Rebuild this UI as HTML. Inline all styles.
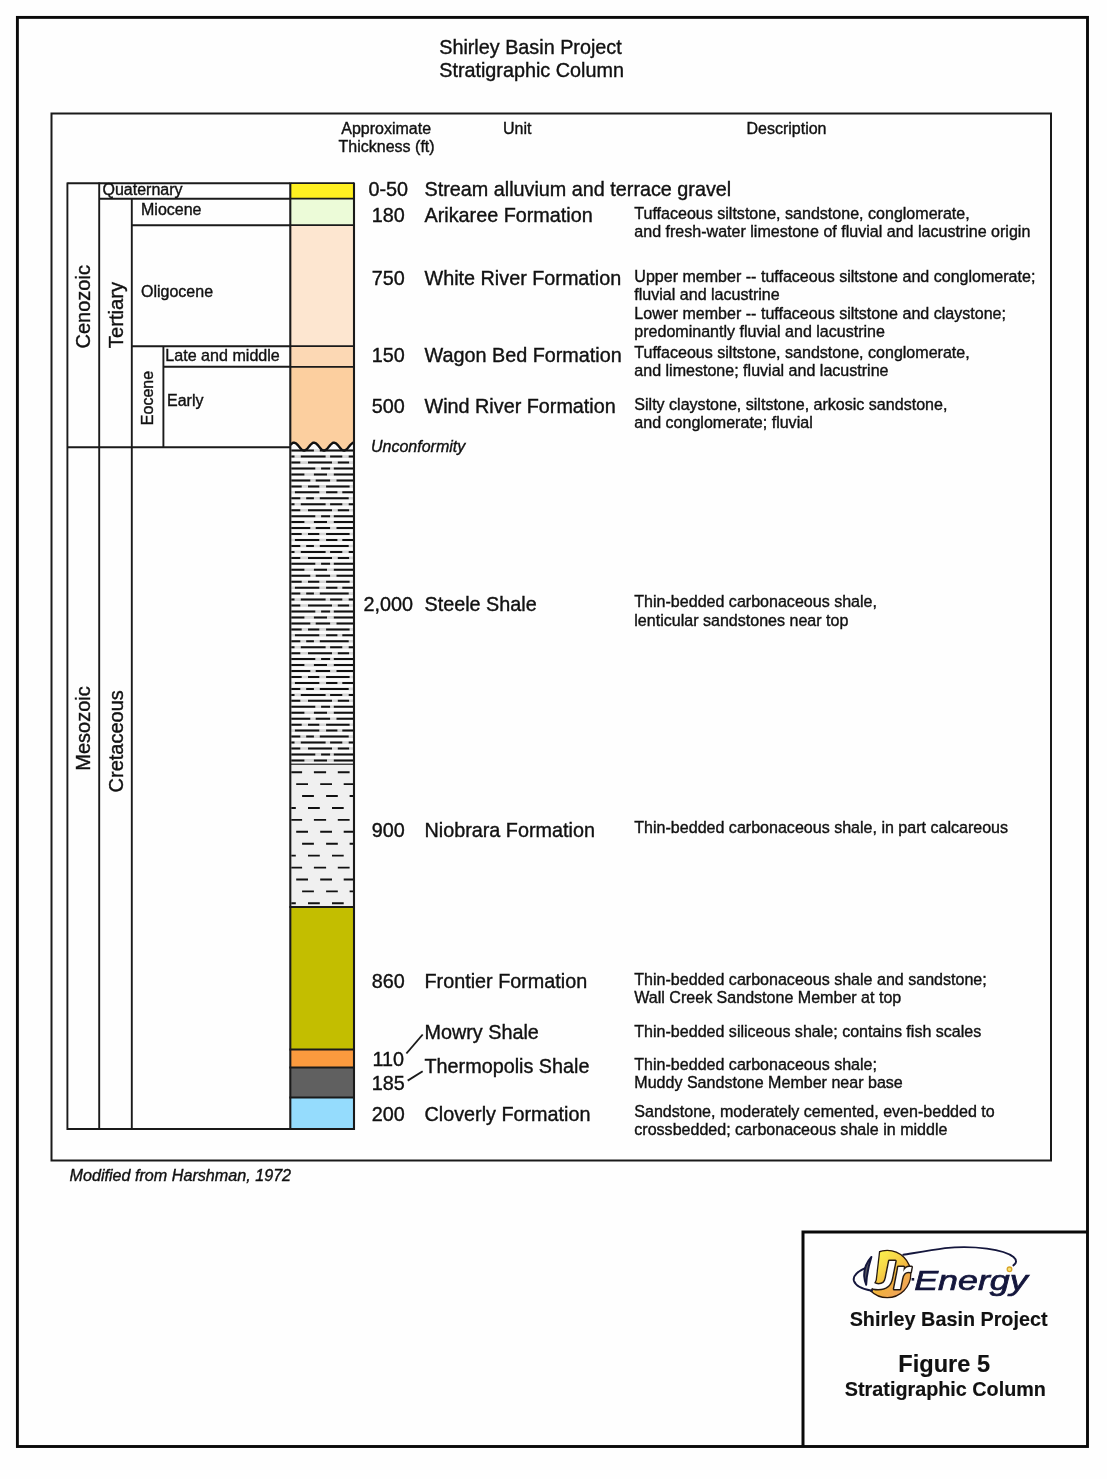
<!DOCTYPE html>
<html lang="en"><head><meta charset="utf-8"><title>Shirley Basin Project - Stratigraphic Column</title>
<style>
html,body{margin:0;padding:0;background:#fff;}
body{width:1107px;height:1479px;overflow:hidden;}
svg{display:block;filter:blur(0.45px);}
svg text{font-family:"Liberation Sans",Arial,Helvetica,sans-serif;stroke:#111;stroke-width:0.38px;}
</style></head><body>
<svg width="1107" height="1479" viewBox="0 0 1107 1479">
<rect width="1107" height="1479" fill="#fefefe"/>
<rect x="17.4" y="17.4" width="1070.1" height="1429.1" fill="none" stroke="#0a0a0a" stroke-width="2.9"/>
<rect x="51.5" y="113.5" width="999.5" height="1047" fill="none" stroke="#1a1a1a" stroke-width="2"/>
<path d="M803,1446 V1232 H1087" fill="none" stroke="#0a0a0a" stroke-width="3"/>
<text x="439.2" y="53.8" font-size="19.8" fill="#111" >Shirley Basin Project</text>
<text x="439.2" y="76.8" font-size="19.8" fill="#111" >Stratigraphic Column</text>
<text x="386.2" y="133.8" font-size="16" text-anchor="middle" fill="#111" >Approximate</text>
<text x="386.6" y="152" font-size="16" text-anchor="middle" fill="#111" >Thickness (ft)</text>
<text x="517.2" y="133.8" font-size="16" text-anchor="middle" fill="#111" >Unit</text>
<text x="786.5" y="133.8" font-size="16" text-anchor="middle" fill="#111" >Description</text>
<rect x="290.3" y="183.2" width="63.69999999999999" height="15.5" fill="#fff021"/>
<rect x="290.3" y="198.7" width="63.69999999999999" height="26.5" fill="#ecfbd8"/>
<rect x="290.3" y="225.2" width="63.69999999999999" height="121.0" fill="#fde6d0"/>
<rect x="290.3" y="346.2" width="63.69999999999999" height="20.600000000000023" fill="#fcd8b4"/>
<rect x="290.3" y="366.8" width="63.69999999999999" height="85.19999999999999" fill="#fccf9f"/>
<rect x="290.3" y="452" width="63.69999999999999" height="312.29999999999995" fill="#fbfbfb"/>
<rect x="290.3" y="764.3" width="63.69999999999999" height="142.60000000000002" fill="#f0f0f0"/>
<rect x="290.3" y="906.9" width="63.69999999999999" height="142.69999999999993" fill="#c3be00"/>
<rect x="290.3" y="1049.6" width="63.69999999999999" height="17.90000000000009" fill="#fb9a3e"/>
<rect x="290.3" y="1067.5" width="63.69999999999999" height="30.09999999999991" fill="#606060"/>
<rect x="290.3" y="1097.6" width="63.69999999999999" height="31.40000000000009" fill="#95dcfd"/>
<path d="M290.30,445.05 L290.80,444.51 L291.30,444.02 L291.80,443.59 L292.30,443.24 L292.80,442.97 L293.30,442.79 L293.80,442.71 L294.30,442.72 L294.80,442.82 L295.30,443.02 L295.80,443.31 L296.30,443.67 L296.80,444.11 L297.30,444.61 L297.80,445.16 L298.30,445.75 L298.80,446.36 L299.30,446.97 L299.80,447.57 L300.30,448.15 L300.80,448.69 L301.30,449.18 L301.80,449.61 L302.30,449.96 L302.80,450.23 L303.30,450.41 L303.80,450.49 L304.30,450.48 L304.80,450.38 L305.30,450.18 L305.80,449.89 L306.30,449.53 L306.80,449.09 L307.30,448.59 L307.80,448.04 L308.30,447.45 L308.80,446.84 L309.30,446.23 L309.80,445.63 L310.30,445.05 L310.80,444.51 L311.30,444.02 L311.80,443.59 L312.30,443.24 L312.80,442.97 L313.30,442.79 L313.80,442.71 L314.30,442.72 L314.80,442.82 L315.30,443.02 L315.80,443.31 L316.30,443.67 L316.80,444.11 L317.30,444.61 L317.80,445.16 L318.30,445.75 L318.80,446.36 L319.30,446.97 L319.80,447.57 L320.30,448.15 L320.80,448.69 L321.30,449.18 L321.80,449.61 L322.30,449.96 L322.80,450.23 L323.30,450.41 L323.80,450.49 L324.30,450.48 L324.80,450.38 L325.30,450.18 L325.80,449.89 L326.30,449.53 L326.80,449.09 L327.30,448.59 L327.80,448.04 L328.30,447.45 L328.80,446.84 L329.30,446.23 L329.80,445.63 L330.30,445.05 L330.80,444.51 L331.30,444.02 L331.80,443.59 L332.30,443.24 L332.80,442.97 L333.30,442.79 L333.80,442.71 L334.30,442.72 L334.80,442.82 L335.30,443.02 L335.80,443.31 L336.30,443.67 L336.80,444.11 L337.30,444.61 L337.80,445.16 L338.30,445.75 L338.80,446.36 L339.30,446.97 L339.80,447.57 L340.30,448.15 L340.80,448.69 L341.30,449.18 L341.80,449.61 L342.30,449.96 L342.80,450.23 L343.30,450.41 L343.80,450.49 L344.30,450.48 L344.80,450.38 L345.30,450.18 L345.80,449.89 L346.30,449.53 L346.80,449.09 L347.30,448.59 L347.80,448.04 L348.30,447.45 L348.80,446.84 L349.30,446.23 L349.80,445.63 L350.30,445.05 L350.80,444.51 L351.30,444.02 L351.80,443.59 L352.30,443.24 L352.80,442.97 L353.30,442.79 L353.80,442.71 L354.0,455 L290.3,455 Z" fill="#fbfbfb"/>
<path d="M291.3,450.6H353.3M291.3,456.6H353.3M291.3,462.6H353.3M291.3,468.5H353.3M291.3,474.5H353.3M291.3,480.4H353.3M291.3,486.4H353.3M291.3,492.3H353.3M291.3,498.3H353.3M291.3,504.3H353.3M291.3,510.2H353.3M291.3,516.2H353.3M291.3,522.1H353.3M291.3,528.1H353.3M291.3,534.0H353.3M291.3,540.0H353.3M291.3,546.0H353.3M291.3,551.9H353.3M291.3,557.9H353.3M291.3,563.8H353.3M291.3,569.8H353.3M291.3,575.7H353.3M291.3,581.7H353.3M291.3,587.7H353.3M291.3,593.6H353.3M291.3,599.6H353.3M291.3,605.5H353.3M291.3,611.5H353.3M291.3,617.4H353.3M291.3,623.4H353.3M291.3,629.4H353.3M291.3,635.3H353.3M291.3,641.3H353.3M291.3,647.2H353.3M291.3,653.2H353.3M291.3,659.1H353.3M291.3,665.1H353.3M291.3,671.1H353.3M291.3,677.0H353.3M291.3,683.0H353.3M291.3,688.9H353.3M291.3,694.9H353.3M291.3,700.8H353.3M291.3,706.8H353.3M291.3,712.8H353.3M291.3,718.7H353.3M291.3,724.7H353.3M291.3,730.6H353.3M291.3,736.6H353.3M291.3,742.5H353.3M291.3,748.5H353.3M291.3,754.4H353.3M291.3,760.4H353.3" stroke="#d6d6d6" stroke-width="2.6" fill="none"/>
<path d="M291.3,450.6H313.90000000000003M319.8,450.6H353.3M291.3,456.6H294.5M300.8,456.6H325.6M330.1,456.6H342.3M348.7,456.6H353.3M291.3,462.6H300.3M308.0,462.6H332.0M337.8,462.6H349.1M291.3,468.5H315.3M321.1,468.5H330.1M333.8,468.5H353.3M291.3,474.5H304.4M313.9,474.5H327.0M333.8,474.5H353.3M291.3,480.4H310.3M315.7,480.4H330.1M336.5,480.4H353.3M291.3,486.4H301.7M308.0,486.4H319.3M326.1,486.4H349.6M294.9,492.3H319.3M326.1,492.3H337.4M342.3,492.3H353.3M291.3,498.3H300.3M306.2,498.3H313.9M319.8,498.3H348.7M291.3,504.3H294.5M300.8,504.3H325.6M330.1,504.3H342.3M348.7,504.3H353.3M291.3,510.2H300.3M308.0,510.2H332.0M337.8,510.2H349.1M291.3,516.2H315.3M321.1,516.2H330.1M333.8,516.2H353.3M291.3,522.1H304.4M313.9,522.1H327.0M333.8,522.1H353.3M291.3,528.1H310.3M315.7,528.1H330.1M336.5,528.1H353.3M291.3,534.0H301.7M308.0,534.0H319.3M326.1,534.0H349.6M294.9,540.0H319.3M326.1,540.0H337.4M342.3,540.0H353.3M291.3,546.0H300.3M306.2,546.0H313.9M319.8,546.0H348.7M291.3,551.9H294.5M300.8,551.9H325.6M330.1,551.9H342.3M348.7,551.9H353.3M291.3,557.9H300.3M308.0,557.9H332.0M337.8,557.9H349.1M291.3,563.8H315.3M321.1,563.8H330.1M333.8,563.8H353.3M291.3,569.8H304.4M313.9,569.8H327.0M333.8,569.8H353.3M291.3,575.7H310.3M315.7,575.7H330.1M336.5,575.7H353.3M291.3,581.7H301.7M308.0,581.7H319.3M326.1,581.7H349.6M294.9,587.7H319.3M326.1,587.7H337.4M342.3,587.7H353.3M291.3,593.6H300.3M306.2,593.6H313.9M319.8,593.6H348.7M291.3,599.6H294.5M300.8,599.6H325.6M330.1,599.6H342.3M348.7,599.6H353.3M291.3,605.5H300.3M308.0,605.5H332.0M337.8,605.5H349.1M291.3,611.5H315.3M321.1,611.5H330.1M333.8,611.5H353.3M291.3,617.4H304.4M313.9,617.4H327.0M333.8,617.4H353.3M291.3,623.4H310.3M315.7,623.4H330.1M336.5,623.4H353.3M291.3,629.4H301.7M308.0,629.4H319.3M326.1,629.4H349.6M294.9,635.3H319.3M326.1,635.3H337.4M342.3,635.3H353.3M291.3,641.3H300.3M306.2,641.3H313.9M319.8,641.3H348.7M291.3,647.2H294.5M300.8,647.2H325.6M330.1,647.2H342.3M348.7,647.2H353.3M291.3,653.2H300.3M308.0,653.2H332.0M337.8,653.2H349.1M291.3,659.1H315.3M321.1,659.1H330.1M333.8,659.1H353.3M291.3,665.1H304.4M313.9,665.1H327.0M333.8,665.1H353.3M291.3,671.1H310.3M315.7,671.1H330.1M336.5,671.1H353.3M291.3,677.0H301.7M308.0,677.0H319.3M326.1,677.0H349.6M294.9,683.0H319.3M326.1,683.0H337.4M342.3,683.0H353.3M291.3,688.9H300.3M306.2,688.9H313.9M319.8,688.9H348.7M291.3,694.9H294.5M300.8,694.9H325.6M330.1,694.9H342.3M348.7,694.9H353.3M291.3,700.8H300.3M308.0,700.8H332.0M337.8,700.8H349.1M291.3,706.8H315.3M321.1,706.8H330.1M333.8,706.8H353.3M291.3,712.8H304.4M313.9,712.8H327.0M333.8,712.8H353.3M291.3,718.7H310.3M315.7,718.7H330.1M336.5,718.7H353.3M291.3,724.7H301.7M308.0,724.7H319.3M326.1,724.7H349.6M294.9,730.6H319.3M326.1,730.6H337.4M342.3,730.6H353.3M291.3,736.6H300.3M306.2,736.6H313.9M319.8,736.6H348.7M291.3,742.5H294.5M300.8,742.5H325.6M330.1,742.5H342.3M348.7,742.5H353.3M291.3,748.5H300.3M308.0,748.5H332.0M337.8,748.5H349.1M291.3,754.4H315.3M321.1,754.4H330.1M333.8,754.4H353.3M291.3,760.4H304.4M313.9,760.4H327.0M333.8,760.4H353.3" stroke="#111" stroke-width="2" fill="none"/>
<line x1="290.3" y1="764.3" x2="354.0" y2="764.3" stroke="#444" stroke-width="1.4"/>
<path d="M291.3,772.2H302.1M313.9,772.2H326.1M337.8,772.2H349.6M296.2,784.1H308.0M320.2,784.1H332.0M343.7,784.1H353.3M302.1,796.0H313.9M326.1,796.0H337.8M349.6,796.0H353.3M291.3,808.0H295.8M308.0,808.0H319.8M332.0,808.0H343.7M291.3,819.9H302.1M313.9,819.9H326.1M337.8,819.9H349.6M296.2,831.8H308.0M320.2,831.8H332.0M343.7,831.8H353.3M302.1,843.7H313.9M326.1,843.7H337.8M349.6,843.7H353.3M291.3,855.6H295.8M308.0,855.6H319.8M332.0,855.6H343.7M291.3,867.6H302.1M313.9,867.6H326.1M337.8,867.6H349.6M296.2,879.5H308.0M320.2,879.5H332.0M343.7,879.5H353.3M302.1,891.4H313.9M326.1,891.4H337.8M349.6,891.4H353.3M291.3,903.3H295.8M308.0,903.3H319.8M332.0,903.3H343.7" stroke="#111" stroke-width="1.9" fill="none"/>
<path d="M290.30,445.05 L290.80,444.51 L291.30,444.02 L291.80,443.59 L292.30,443.24 L292.80,442.97 L293.30,442.79 L293.80,442.71 L294.30,442.72 L294.80,442.82 L295.30,443.02 L295.80,443.31 L296.30,443.67 L296.80,444.11 L297.30,444.61 L297.80,445.16 L298.30,445.75 L298.80,446.36 L299.30,446.97 L299.80,447.57 L300.30,448.15 L300.80,448.69 L301.30,449.18 L301.80,449.61 L302.30,449.96 L302.80,450.23 L303.30,450.41 L303.80,450.49 L304.30,450.48 L304.80,450.38 L305.30,450.18 L305.80,449.89 L306.30,449.53 L306.80,449.09 L307.30,448.59 L307.80,448.04 L308.30,447.45 L308.80,446.84 L309.30,446.23 L309.80,445.63 L310.30,445.05 L310.80,444.51 L311.30,444.02 L311.80,443.59 L312.30,443.24 L312.80,442.97 L313.30,442.79 L313.80,442.71 L314.30,442.72 L314.80,442.82 L315.30,443.02 L315.80,443.31 L316.30,443.67 L316.80,444.11 L317.30,444.61 L317.80,445.16 L318.30,445.75 L318.80,446.36 L319.30,446.97 L319.80,447.57 L320.30,448.15 L320.80,448.69 L321.30,449.18 L321.80,449.61 L322.30,449.96 L322.80,450.23 L323.30,450.41 L323.80,450.49 L324.30,450.48 L324.80,450.38 L325.30,450.18 L325.80,449.89 L326.30,449.53 L326.80,449.09 L327.30,448.59 L327.80,448.04 L328.30,447.45 L328.80,446.84 L329.30,446.23 L329.80,445.63 L330.30,445.05 L330.80,444.51 L331.30,444.02 L331.80,443.59 L332.30,443.24 L332.80,442.97 L333.30,442.79 L333.80,442.71 L334.30,442.72 L334.80,442.82 L335.30,443.02 L335.80,443.31 L336.30,443.67 L336.80,444.11 L337.30,444.61 L337.80,445.16 L338.30,445.75 L338.80,446.36 L339.30,446.97 L339.80,447.57 L340.30,448.15 L340.80,448.69 L341.30,449.18 L341.80,449.61 L342.30,449.96 L342.80,450.23 L343.30,450.41 L343.80,450.49 L344.30,450.48 L344.80,450.38 L345.30,450.18 L345.80,449.89 L346.30,449.53 L346.80,449.09 L347.30,448.59 L347.80,448.04 L348.30,447.45 L348.80,446.84 L349.30,446.23 L349.80,445.63 L350.30,445.05 L350.80,444.51 L351.30,444.02 L351.80,443.59 L352.30,443.24 L352.80,442.97 L353.30,442.79 L353.80,442.71" fill="none" stroke="#111" stroke-width="2.4"/>
<line x1="290.3" y1="183.2" x2="354.0" y2="183.2" stroke="#1a1a1a" stroke-width="1.7"/>
<line x1="290.3" y1="198.7" x2="354.0" y2="198.7" stroke="#1a1a1a" stroke-width="1.7"/>
<line x1="290.3" y1="225.2" x2="354.0" y2="225.2" stroke="#1a1a1a" stroke-width="1.7"/>
<line x1="290.3" y1="346.2" x2="354.0" y2="346.2" stroke="#1a1a1a" stroke-width="1.7"/>
<line x1="290.3" y1="366.8" x2="354.0" y2="366.8" stroke="#1a1a1a" stroke-width="1.7"/>
<line x1="289.40000000000003" y1="906.9" x2="354.9" y2="906.9" stroke="#1a1a1a" stroke-width="2"/>
<line x1="289.40000000000003" y1="1049.6" x2="354.9" y2="1049.6" stroke="#1a1a1a" stroke-width="2"/>
<line x1="289.40000000000003" y1="1067.5" x2="354.9" y2="1067.5" stroke="#1a1a1a" stroke-width="2"/>
<line x1="289.40000000000003" y1="1097.6" x2="354.9" y2="1097.6" stroke="#1a1a1a" stroke-width="2"/>
<line x1="289.40000000000003" y1="1129" x2="354.9" y2="1129" stroke="#1a1a1a" stroke-width="2"/>
<line x1="290.3" y1="182.4" x2="290.3" y2="1130" stroke="#1a1a1a" stroke-width="2.1"/>
<line x1="354.0" y1="182.4" x2="354.0" y2="1130" stroke="#1a1a1a" stroke-width="2.1"/>
<line x1="67.4" y1="183.2" x2="290" y2="183.2" stroke="#1a1a1a" stroke-width="1.9"/>
<line x1="67.4" y1="182.4" x2="67.4" y2="1130" stroke="#1a1a1a" stroke-width="1.9"/>
<line x1="99.2" y1="182.4" x2="99.2" y2="1130" stroke="#1a1a1a" stroke-width="1.9"/>
<line x1="131.8" y1="198.7" x2="131.8" y2="1130" stroke="#1a1a1a" stroke-width="1.9"/>
<line x1="163.4" y1="346.2" x2="163.4" y2="447.2" stroke="#1a1a1a" stroke-width="1.9"/>
<line x1="99.2" y1="198.7" x2="290" y2="198.7" stroke="#1a1a1a" stroke-width="1.9"/>
<line x1="131.8" y1="225.2" x2="290" y2="225.2" stroke="#1a1a1a" stroke-width="1.9"/>
<line x1="131.8" y1="346.2" x2="290" y2="346.2" stroke="#1a1a1a" stroke-width="1.9"/>
<line x1="163.4" y1="366.8" x2="290" y2="366.8" stroke="#1a1a1a" stroke-width="1.9"/>
<line x1="67.4" y1="447.2" x2="290" y2="447.2" stroke="#1a1a1a" stroke-width="1.9"/>
<line x1="67" y1="1129" x2="290" y2="1129" stroke="#1a1a1a" stroke-width="2"/>
<text x="102.5" y="194.9" font-size="16" fill="#111" >Quaternary</text>
<text x="141" y="215" font-size="16" fill="#111" >Miocene</text>
<text x="141" y="297" font-size="16" fill="#111" >Oligocene</text>
<text x="165.3" y="361" font-size="16.1" fill="#111" >Late and middle</text>
<text x="167" y="406" font-size="16" fill="#111" >Early</text>
<text transform="translate(90,306.8) rotate(-90)" font-size="20" text-anchor="middle" fill="#111">Cenozoic</text>
<text transform="translate(123,315) rotate(-90)" font-size="20.3" text-anchor="middle" fill="#111">Tertiary</text>
<text transform="translate(152.7,398) rotate(-90)" font-size="16" text-anchor="middle" fill="#111">Eocene</text>
<text transform="translate(90,728.5) rotate(-90)" font-size="20" text-anchor="middle" fill="#111">Mesozoic</text>
<text transform="translate(123,741.3) rotate(-90)" font-size="20" text-anchor="middle" fill="#111">Cretaceous</text>
<text x="388.3" y="195.9" font-size="19.8" text-anchor="middle" fill="#111" >0-50</text>
<text x="424.5" y="195.9" font-size="19.8" fill="#111" >Stream alluvium and terrace gravel</text>
<text x="388.3" y="221.9" font-size="19.8" text-anchor="middle" fill="#111" >180</text>
<text x="424.5" y="221.9" font-size="19.8" fill="#111" >Arikaree Formation</text>
<text x="634.3" y="218.9" font-size="16.06" fill="#111" >Tuffaceous siltstone, sandstone, conglomerate,</text>
<text x="634.3" y="237.2" font-size="16.06" fill="#111" >and fresh-water limestone of fluvial and lacustrine origin</text>
<text x="388.3" y="284.7" font-size="19.8" text-anchor="middle" fill="#111" >750</text>
<text x="424.5" y="284.7" font-size="19.8" fill="#111" >White River Formation</text>
<text x="634.3" y="281.7" font-size="16.06" fill="#111" >Upper member -- tuffaceous siltstone and conglomerate;</text>
<text x="634.3" y="300" font-size="16.06" fill="#111" >fluvial and lacustrine</text>
<text x="634.3" y="319" font-size="16.06" fill="#111" >Lower member -- tuffaceous siltstone and claystone;</text>
<text x="634.3" y="336.6" font-size="16.06" fill="#111" >predominantly fluvial and lacustrine</text>
<text x="388.3" y="361.9" font-size="19.8" text-anchor="middle" fill="#111" >150</text>
<text x="424.5" y="361.9" font-size="19.8" fill="#111" >Wagon Bed Formation</text>
<text x="634.3" y="358.4" font-size="16.06" fill="#111" >Tuffaceous siltstone, sandstone, conglomerate,</text>
<text x="634.3" y="376.3" font-size="16.06" fill="#111" >and limestone; fluvial and lacustrine</text>
<text x="388.3" y="412.6" font-size="19.8" text-anchor="middle" fill="#111" >500</text>
<text x="424.5" y="412.6" font-size="19.8" fill="#111" >Wind River Formation</text>
<text x="634.3" y="410" font-size="16.06" fill="#111" >Silty claystone, siltstone, arkosic sandstone,</text>
<text x="634.3" y="428" font-size="16.06" fill="#111" >and conglomerate; fluvial</text>
<text x="388.3" y="611.1" font-size="19.8" text-anchor="middle" fill="#111" >2,000</text>
<text x="424.5" y="611.1" font-size="19.8" fill="#111" >Steele Shale</text>
<text x="634.3" y="607.2" font-size="16.06" fill="#111" >Thin-bedded carbonaceous shale,</text>
<text x="634.3" y="625.8" font-size="16.06" fill="#111" >lenticular sandstones near top</text>
<text x="388.3" y="836.9" font-size="19.8" text-anchor="middle" fill="#111" >900</text>
<text x="424.5" y="836.9" font-size="19.8" fill="#111" >Niobrara Formation</text>
<text x="634.3" y="833" font-size="16.06" fill="#111" >Thin-bedded carbonaceous shale, in part calcareous</text>
<text x="388.3" y="988.3" font-size="19.8" text-anchor="middle" fill="#111" >860</text>
<text x="424.5" y="988.3" font-size="19.8" fill="#111" >Frontier Formation</text>
<text x="634.3" y="984.8" font-size="16.06" fill="#111" >Thin-bedded carbonaceous shale and sandstone;</text>
<text x="634.3" y="1003" font-size="16.06" fill="#111" >Wall Creek Sandstone Member at top</text>
<text x="388.3" y="1065.5" font-size="19.8" text-anchor="middle" fill="#111" >110</text>
<text x="424.5" y="1039" font-size="19.8" fill="#111" >Mowry Shale</text>
<text x="634.3" y="1036.5" font-size="16.06" fill="#111" >Thin-bedded siliceous shale; contains fish scales</text>
<text x="388.3" y="1089.8" font-size="19.8" text-anchor="middle" fill="#111" >185</text>
<text x="424.5" y="1072.9" font-size="19.8" fill="#111" >Thermopolis Shale</text>
<text x="634.3" y="1070" font-size="16.06" fill="#111" >Thin-bedded carbonaceous shale;</text>
<text x="634.3" y="1088" font-size="16.06" fill="#111" >Muddy Sandstone Member near base</text>
<text x="388.3" y="1120.5" font-size="19.8" text-anchor="middle" fill="#111" >200</text>
<text x="424.5" y="1120.5" font-size="19.8" fill="#111" >Cloverly Formation</text>
<text x="634.3" y="1117" font-size="16.06" fill="#111" >Sandstone, moderately cemented, even-bedded to</text>
<text x="634.3" y="1135" font-size="16.06" fill="#111" >crossbedded; carbonaceous shale in middle</text>
<text x="371" y="451.5" font-size="16" font-style="italic" fill="#111" >Unconformity</text>
<line x1="406.4" y1="1053.5" x2="422.7" y2="1034.5" stroke="#1a1a1a" stroke-width="1.9"/>
<line x1="407.7" y1="1080.6" x2="422.7" y2="1071.2" stroke="#1a1a1a" stroke-width="1.9"/>
<text x="69.5" y="1180.5" font-size="16.15" font-style="italic" fill="#111" >Modified from Harshman, 1972</text>
<text x="948.6" y="1326" font-size="19.8" font-weight="bold" style="stroke-width:0.15px" text-anchor="middle" fill="#111" >Shirley Basin Project</text>
<text x="944.2" y="1372" font-size="23.6" font-weight="bold" style="stroke-width:0.15px" text-anchor="middle" fill="#111" >Figure 5</text>
<text x="945.4" y="1396" font-size="19.8" font-weight="bold" style="stroke-width:0.15px" text-anchor="middle" fill="#111" >Stratigraphic Column</text>
<defs>
<linearGradient id="og" gradientUnits="userSpaceOnUse" x1="874" y1="1258" x2="906" y2="1294"><stop offset="0" stop-color="#fbee4c"/><stop offset="0.3" stop-color="#f7d648"/><stop offset="0.6" stop-color="#f2b03e"/><stop offset="1" stop-color="#f0a260"/></linearGradient>
<clipPath id="dc"><circle cx="887.2" cy="1274" r="24.3"/></clipPath>
</defs>
<g id="logo">
<circle cx="887.2" cy="1274" r="23.6" fill="url(#og)" stroke="#2a1608" stroke-width="1.3"/>
<g clip-path="url(#dc)">
<path d="M858,1246 L879.6,1246 L875.6,1280 L870,1292 L858,1292 Z" fill="#241a14" stroke="#241a14" stroke-width="2.6" stroke-linejoin="round"/>
</g>
<text x="864.6" y="1289.4" font-size="41.5" font-weight="bold" font-style="italic" style="fill:#fefefe;stroke:#241a14;stroke-width:3px;paint-order:stroke;stroke-linejoin:round">U<tspan dx="-1.2">r</tspan></text>
<path d="M854,1246 L879.6,1246 L875.6,1280 L870,1292 L854,1292 Z" fill="#fefefe"/>
<path d="M871.4,1257 C866.5,1262.5 863.8,1270 864.2,1276.5 C864.5,1280 865.2,1282.6 866.2,1284.8 C866.5,1278 867.2,1270.5 871.4,1257 Z" fill="#55555f" stroke="#14163c" stroke-width="1.9" stroke-linejoin="round"/>
<path d="M864.6,1268.4 C857,1272 852.6,1276.6 854,1281 C856,1286.6 864.5,1289.6 872,1290.8" fill="none" stroke="#14163c" stroke-width="2" stroke-linecap="round"/>
<path d="M903.3,1254.8 C912,1253.4 930,1250.2 945,1248.1 C975,1245.2 1004,1249.5 1013.5,1257 C1017.3,1260.2 1016.6,1263.2 1013.4,1265.4" fill="none" stroke="#14163c" stroke-width="1.9" stroke-linecap="round"/>
<circle cx="1009.5" cy="1269.3" r="2.3" fill="#f6e27a" stroke="#d8a428" stroke-width="1.3"/>
<rect x="911.6" y="1278" width="2.6" height="2.6" fill="#14163c"/>
<text x="914.2" y="1290" font-size="27" font-style="italic" textLength="113.5" lengthAdjust="spacingAndGlyphs" style="fill:#14163c;stroke:#14163c;stroke-width:0.7px">Energy</text>
</g>

</svg>
</body></html>
